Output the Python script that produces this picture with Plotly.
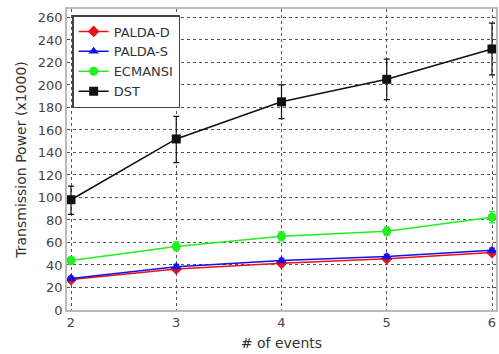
import plotly.graph_objects as go

events = [2, 3, 4, 5, 6]

palda_d = [27, 36.5, 41.5, 45.5, 51]
palda_d_err = [2, 2, 2, 2, 2]
palda_s = [28, 38.5, 44, 47.5, 53]
palda_s_err = [2, 2, 2, 2, 2]
ecmansi = [44, 56.5, 65.5, 70, 82.5]
ecmansi_err = [3, 4, 4, 4, 5]
dst = [98, 152, 185, 205, 232]
dst_err_plus = [12, 20, 15, 18, 23]
dst_err_minus = [13, 21, 15, 18, 23]

y_ticks = list(range(0, 261, 20))

fig = go.Figure()

def add(name, y, err, color, symbol, size, err_minus=None):
    e = dict(type="data", array=err, visible=True, color=color, thickness=1.2, width=3)
    if err_minus is not None:
        e["arrayminus"] = err_minus
        e["symmetric"] = False
    fig.add_trace(go.Scatter(
        x=events, y=y, name=name, mode="lines+markers",
        line=dict(color=color, width=1.5),
        marker=dict(color=color, symbol=symbol, size=size),
        error_y=e, cliponaxis=False,
    ))

add("PALDA-D", palda_d, palda_d_err, "#ee1111", "diamond", 9)
add("PALDA-S", palda_s, palda_s_err, "#1111ee", "triangle-up", 9)
add("ECMANSI", ecmansi, ecmansi_err, "#22ee22", "circle", 9)
add("DST", dst, dst_err_plus, "#111111", "square", 9, dst_err_minus)

axis_common = dict(
    showgrid=True, gridcolor="#555555", griddash="dot", gridwidth=1,
    showline=True, linecolor="#bbbbbb", linewidth=1.5, mirror=True,
    zeroline=False, ticks="", automargin=False,
    tickfont=dict(family="DejaVu Sans", size=13, color="#444444"),
)

fig.update_layout(
    width=499, height=354,
    margin=dict(l=67, r=3, t=9, b=44, autoexpand=False),
    paper_bgcolor="white", plot_bgcolor="white",
    font=dict(family="DejaVu Sans", color="#333333"),
    showlegend=True,
    legend=dict(
        x=0.012, y=0.98, xanchor="left", yanchor="top",
        bgcolor="white", bordercolor="#444444", borderwidth=1.5,
        font=dict(family="DejaVu Sans", size=13, color="#333333"),
        tracegroupgap=1, itemwidth=30,
    ),
    xaxis=dict(
        range=[1.962, 6.038], tickvals=events, ticktext=[str(v) for v in events],
        title=dict(text="# of events", font=dict(size=14, color="#333333"), standoff=9),
        **axis_common,
    ),
    yaxis=dict(
        range=[0, 267.5], tickvals=y_ticks,
        title=dict(text="Transmission Power (x1000)", font=dict(size=14, color="#333333"), standoff=8),
        **axis_common,
    ),
)

fig.write_html(
    "out.html",
    config={"displayModeBar": False},
    post_script="document.body.style.margin='0';document.body.style.overflow='hidden';",
)
